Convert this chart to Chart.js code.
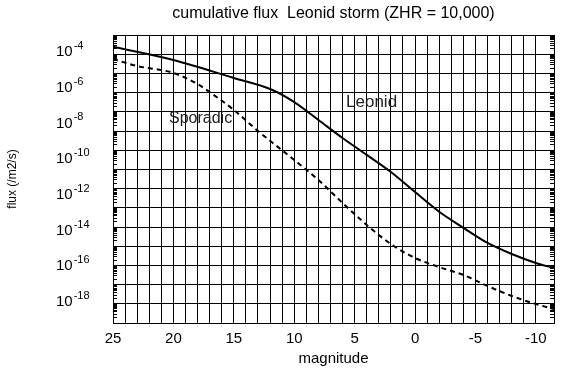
<!DOCTYPE html>
<html><head><meta charset="utf-8">
<script src="https://cdn.jsdelivr.net/npm/chart.js@4.4.1/dist/chart.umd.min.js"></script>
<style>html,body{margin:0;padding:0;background:#fff;overflow:hidden;}</style>
</head><body>
<canvas id="c" width="561" height="375" style="display:block;width:561px;height:375px"></canvas>
<script>
// ---- data (log10 of flux) ----
const leonidMag = [25, 20, 15, 12, 10, 8, 6, 4, 2, 0, -2, -4, -6, -8, -10, -11.5];
const leonidLogFlux = [-3.76, -4.50, -5.51, -6.13, -6.86, -7.86, -8.87, -9.82, -10.78, -11.9, -13.0, -13.9, -14.75, -15.37, -15.87, -16.15];
const sporadicMag = [25, 23, 20, 18, 17, 15, 13, 10, 8, 6, 4, 2, 0, -2, -4, -6, -8, -10, -11.5];
const sporadicLogFlux = [-4.45, -4.84, -5.23, -5.85, -6.30, -7.30, -8.48, -10.1, -11.22, -12.51, -13.74, -14.81, -15.59, -16.1, -16.54, -17.16, -17.72, -18.17, -18.45];
const yTickExponents = [-4, -6, -8, -10, -12, -14, -16, -18];
const xTickLabels = [25, 20, 15, 10, 5, 0, -5, -10];
const seriesNames = ['Leonid', 'Sporadic'];
const titleText = 'cumulative flux  Leonid storm (ZHR = 10,000)';
const xTitle = 'magnitude';
const yTitle = 'flux (/m2/s)';

const FONT = "'Liberation Sans', Arial, 'DejaVu Sans', sans-serif";

const minorTicks = {
  id: 'minorTicks',
  beforeDatasetsDraw(chart) {
    const s = chart.scales.y2, a = chart.chartArea, ctx = chart.ctx;
    ctx.save();
    ctx.strokeStyle = '#000';
    ctx.lineWidth = 1;
    for (let k = 0; k < 15; k++) {
      for (let m = 1; m <= 9; m++) {
        const y = Math.round(s.getPixelForValue(k + Math.log10(m))) + 0.5;
        ctx.beginPath();
        ctx.moveTo(a.left, y); ctx.lineTo(a.left + 4, y);
        ctx.moveTo(a.right - 4, y); ctx.lineTo(a.right, y);
        ctx.stroke();
      }
    }
    ctx.restore();
  }
};

// y tick labels as 10 with raised exponent, placed through the y scale
const powerLabels = {
  id: 'powerLabels',
  afterDraw(chart) {
    const s = chart.scales.y, ctx = chart.ctx;
    ctx.save();
    ctx.fillStyle = '#000';
    ctx.textAlign = 'left';
    ctx.textBaseline = 'middle';
    for (const v of s.ticks.map(t => t.value)) {
      const y = s.getPixelForValue(v);
      ctx.font = '15px ' + FONT;
      ctx.fillText('10', 56, y + 1);
      const w = ctx.measureText('10').width;
      ctx.font = '11px ' + FONT;
      ctx.fillText(String(v), 56 + w + 1, y - 5);
    }
    ctx.restore();
  }
};

const seriesLabels = {
  id: 'seriesLabels',
  afterDatasetsDraw(chart) {
    const ctx = chart.ctx, x = chart.scales.x, y = chart.scales.y;
    ctx.save();
    ctx.fillStyle = '#222';
    ctx.textAlign = 'center';
    ctx.textBaseline = 'middle';
    ctx.font = '17px ' + FONT;
    ctx.fillText(seriesNames[0], x.getPixelForValue(3.6), y.getPixelForValue(-6.85));
    ctx.font = '16px ' + FONT;
    ctx.fillText(seriesNames[1], x.getPixelForValue(17.75), y.getPixelForValue(-7.81));
    ctx.restore();
  }
};

new Chart(document.getElementById('c'), {
  type: 'line',
  data: {
    datasets: [
      {
        label: seriesNames[0],
        data: leonidMag.map((m, i) => ({x: m, y: leonidLogFlux[i]})),
        borderColor: '#000', borderWidth: 2, pointRadius: 0,
        cubicInterpolationMode: 'monotone', fill: false, xAxisID: 'x', yAxisID: 'y'
      },
      {
        label: seriesNames[1],
        data: sporadicMag.map((m, i) => ({x: m, y: sporadicLogFlux[i]})),
        borderColor: '#000', borderWidth: 2, borderDash: [5, 4], pointRadius: 0,
        cubicInterpolationMode: 'monotone', fill: false, xAxisID: 'x', yAxisID: 'y'
      }
    ]
  },
  options: {
    responsive: false,
    devicePixelRatio: 1,
    animation: false,
    layout: {padding: 0},
    plugins: {
      legend: {display: false},
      tooltip: {enabled: false},
      title: {
        display: true, text: titleText, fullSize: false, color: '#000',
        font: {family: FONT, size: 16, weight: 'normal'},
        padding: {top: 4, bottom: 11.8}
      }
    },
    scales: {
      x: {
        type: 'linear', position: 'bottom', reverse: true, min: -11.5, max: 25,
        ticks: {
          stepSize: 1, autoSkip: false, maxRotation: 0, color: '#000', padding: 7,
          font: {family: FONT, size: 15},
          callback: v => xTickLabels.includes(v) ? String(v) : ''
        },
        grid: {color: '#000', lineWidth: 1, drawTicks: false},
        border: {color: '#000', width: 1},
        title: {display: true, text: xTitle, color: '#000', font: {family: FONT, size: 15}, padding: {top: 0, bottom: 7}},
        afterFit: s => { s.height = 52; }
      },
      y: {
        type: 'linear', position: 'left', min: -19.232, max: -3.104,
        afterBuildTicks: s => { s.ticks = yTickExponents.map(v => ({value: v})); },
        ticks: {display: false},
        grid: {display: false, drawTicks: false},
        border: {display: false},
        title: {display: true, text: yTitle, color: '#000', font: {family: FONT, size: 12}, padding: {top: 5, bottom: 0}},
        afterFit: s => { s.width = 113; }
      },
      y2: {
        type: 'linear', position: 'left', min: 0, max: 15,
        ticks: {display: false, stepSize: 1, autoSkip: false},
        grid: {color: '#000', lineWidth: 1, drawTicks: false},
        border: {display: false},
        afterFit: s => { s.width = 0; }
      }
    }
  },
  plugins: [minorTicks, powerLabels, seriesLabels]
});
</script>
</body></html>
